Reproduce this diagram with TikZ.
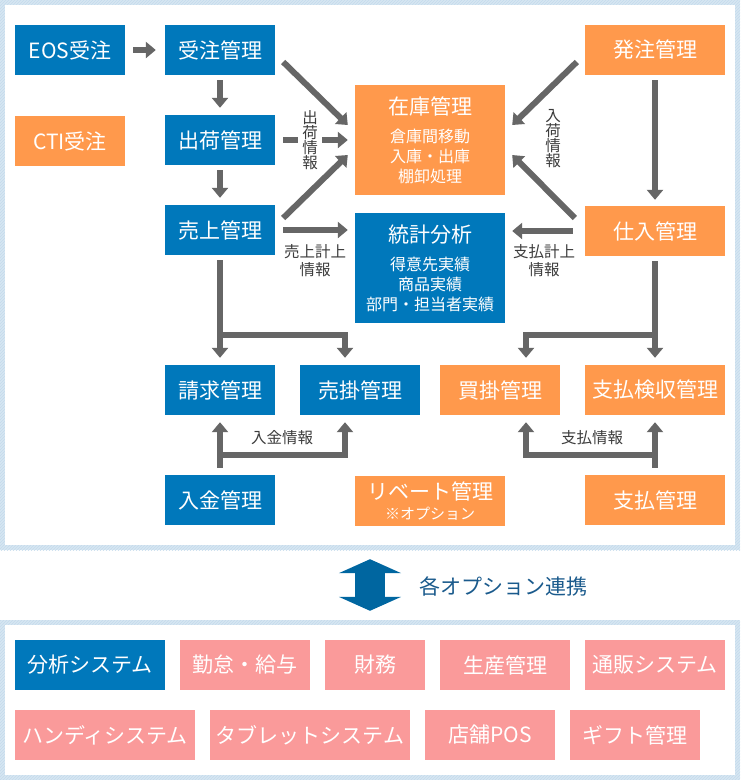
\documentclass[tikz,border=0pt]{standalone}
\usepackage{fontspec}
\setmainfont{Noto Sans CJK JP}
\usetikzlibrary{arrows.meta,patterns}

\definecolor{sysblue}{RGB}{0,120,187}
\definecolor{sysorange}{RGB}{255,153,76}
\definecolor{optpink}{RGB}{250,154,154}
\definecolor{arrowgray}{RGB}{102,102,102}
\definecolor{labelgray}{RGB}{60,60,60}
\definecolor{linkblue}{RGB}{0,102,160}
\definecolor{linktext}{RGB}{26,90,140}
\definecolor{framefill}{RGB}{214,230,242}
\definecolor{framehatch}{RGB}{196,218,236}

\newcommand\headfont{\fontsize{21}{24}\selectfont}

\tikzset{
  sysbox/.style={text=white, minimum width=110pt, minimum height=50pt, inner sep=0pt, font=\headfont},
  bluebox/.style={sysbox, fill=sysblue},
  orangebox/.style={sysbox, fill=sysorange},
  pinkbox/.style={sysbox, fill=optpink},
  detailbox/.style={minimum width=150pt, minimum height=110pt, align=center, font=\fontsize{16}{20}\selectfont},
  flow/.style={draw=arrowgray, line width=6pt, -{Triangle[length=10pt,width=16pt]}},
  flowlabel/.style={text=labelgray, font=\fontsize{15.5}{18}\selectfont, align=center, inner sep=1pt},
  vlabel/.style={flowlabel, font=\fontsize{15.5}{15}\selectfont},
  panel/.style={fill=white, inner sep=0pt},
}

\begin{document}
\begin{tikzpicture}[x=1pt, y=-1pt]
\useasboundingbox (0,0) rectangle (740,780);

\fill[framefill] (0,0) rectangle (740,550);
\fill[pattern=north east lines, pattern color=framehatch] (0,0) rectangle (740,550);
\fill[framefill] (0,620) rectangle (740,780);
\fill[pattern=north east lines, pattern color=framehatch] (0,620) rectangle (740,780);
\node[panel, minimum width=730pt, minimum height=540pt] (upper) at (370,275) {};
\node[panel, minimum width=730pt, minimum height=150pt] (lower) at (370,700) {};

\node[bluebox] (eos) at (70,50) {EOS受注};
\node[bluebox] (jyuchu) at (220,50) {受注管理};
\node[orangebox] (cti) at (70,141) {CTI受注};
\node[bluebox] (shukka) at (220,140) {出荷管理};
\node[bluebox] (uriage) at (220,230) {売上管理};
\node[orangebox, detailbox] (zaiko) at (430,140)
  {{\headfont 在庫管理}\\[8pt]倉庫間移動\\入庫・出庫\\棚卸処理};
\node[bluebox, detailbox] (toukei) at (430,268)
  {{\headfont 統計分析}\\[8pt]得意先実績\\商品実績\\部門・担当者実績};
\node[orangebox, minimum width=140pt] (hacchu) at (655,50) {発注管理};
\node[orangebox, minimum width=140pt] (shiire) at (655,231) {仕入管理};
\node[bluebox] (seikyu) at (220,390) {請求管理};
\node[bluebox, minimum width=120pt] (urikake) at (360,390) {売掛管理};
\node[orangebox, minimum width=120pt] (kaikake) at (500,390) {買掛管理};
\node[orangebox, minimum width=140pt] (kenshu) at (655,390) {支払検収管理};
\node[bluebox] (nyukin) at (220,500) {入金管理};
\node[orangebox, minimum width=150pt, align=center, font=\fontsize{15}{18}\selectfont] (rebate) at (430,501)
  {{\headfont リベート管理}\\[2pt]※オプション};
\node[orangebox, minimum width=140pt] (shiharai) at (655,500) {支払管理};

\draw[flow] ([shift={(8,0)}]eos.east) -- ([shift={(-9,0)}]jyuchu.west);
\draw[flow] ([shift={(0,5)}]jyuchu.south) -- ([shift={(0,-7)}]shukka.north);
\draw[flow] ([shift={(0,5)}]shukka.south) -- ([shift={(0,-7)}]uriage.north);
\draw[flow] ([shift={(8,12)}]jyuchu.east) -- ([shift={(-7,-15)}]zaiko.west);
\draw[flow] ([shift={(8,0)}]shukka.east) -- ([shift={(-7,0)}]zaiko.west);
\draw[flow] ([shift={(8,-12)}]uriage.east) -- ([shift={(-7,15)}]zaiko.west);
\draw[flow] ([shift={(8,0)}]uriage.east) -- ([shift={(-7,-38)}]toukei.west);
\draw[flow] ([shift={(-8,12)}]hacchu.west) -- ([shift={(7,-15)}]zaiko.east);
\draw[flow] ([shift={(-10,-13)}]shiire.west) -- ([shift={(7,15)}]zaiko.east);
\draw[flow] ([shift={(-12,0)}]shiire.west) -- ([shift={(7,-37)}]toukei.east);
\draw[flow] ([shift={(0,5)}]hacchu.south) -- ([shift={(0,-6)}]shiire.north);

\draw[flow] ([shift={(0,5)}]uriage.south) -- ([shift={(0,-7)}]seikyu.north);
\draw[flow] ([shift={(0,5)}]uriage.south) -- ++(0,75) -| ([shift={(-15,-7)}]urikake.north);
\draw[flow] ([shift={(0,5)}]shiire.south) -- ([shift={(0,-7)}]kenshu.north);
\draw[flow] ([shift={(0,5)}]shiire.south) -- ++(0,74) -| ([shift={(26,-7)}]kaikake.north);
\draw[flow] ([shift={(0,-7)}]nyukin.north) -- ([shift={(0,7)}]seikyu.south);
\draw[flow] ([shift={(0,-7)}]nyukin.north) -- ++(0,-13) -| ([shift={(-15,7)}]urikake.south);
\draw[flow] ([shift={(0,-7)}]shiharai.north) -- ([shift={(0,7)}]kenshu.south);
\draw[flow] ([shift={(0,-7)}]shiharai.north) -- ++(0,-13) -| ([shift={(26,7)}]kaikake.south);

\node[vlabel, fill=white, inner xsep=4pt] (shukkainfo) at (310,140) {出\\荷\\情\\報};
\node[vlabel] (nyukainfo) at (553,139) {入\\荷\\情\\報};
\node[flowlabel] (uriageinfo) at (315,261) {売上計上\\情報};
\node[flowlabel] (shiharaiinfo) at (544,261) {支払計上\\情報};
\node[flowlabel] (nyukininfo) at (282,438) {入金情報};
\node[flowlabel] (paymentinfo) at (592,438) {支払情報};

\draw[linkblue, line width=30pt, {Triangle[length=14pt,width=62pt]}-{Triangle[length=14pt,width=62pt]}]
  ([shift={(0,14)}]upper.south) -- ([shift={(0,-14)}]lower.north);
\node[text=linktext, font=\headfont, anchor=west, inner sep=0pt] (linkinfo) at (419,586) {各オプション連携};

\node[bluebox, minimum width=150pt] (analysis) at (90,665) {分析システム};
\node[pinkbox, minimum width=130pt] (kintai) at (245,665) {勤怠・給与};
\node[pinkbox, minimum width=100pt] (zaimu) at (375,665) {財務};
\node[pinkbox, minimum width=130pt] (seisan) at (505,665) {生産管理};
\node[pinkbox, minimum width=140pt] (tsuhan) at (655,665) {通販システム};
\node[pinkbox, minimum width=180pt] (handy) at (105,735) {ハンディシステム};
\node[pinkbox, minimum width=200pt] (tablet) at (310,735) {タブレットシステム};
\node[pinkbox, minimum width=130pt] (pos) at (490,735) {店舗POS};
\node[pinkbox, minimum width=130pt] (gift) at (635,735) {ギフト管理};
\end{tikzpicture}
\end{document}
